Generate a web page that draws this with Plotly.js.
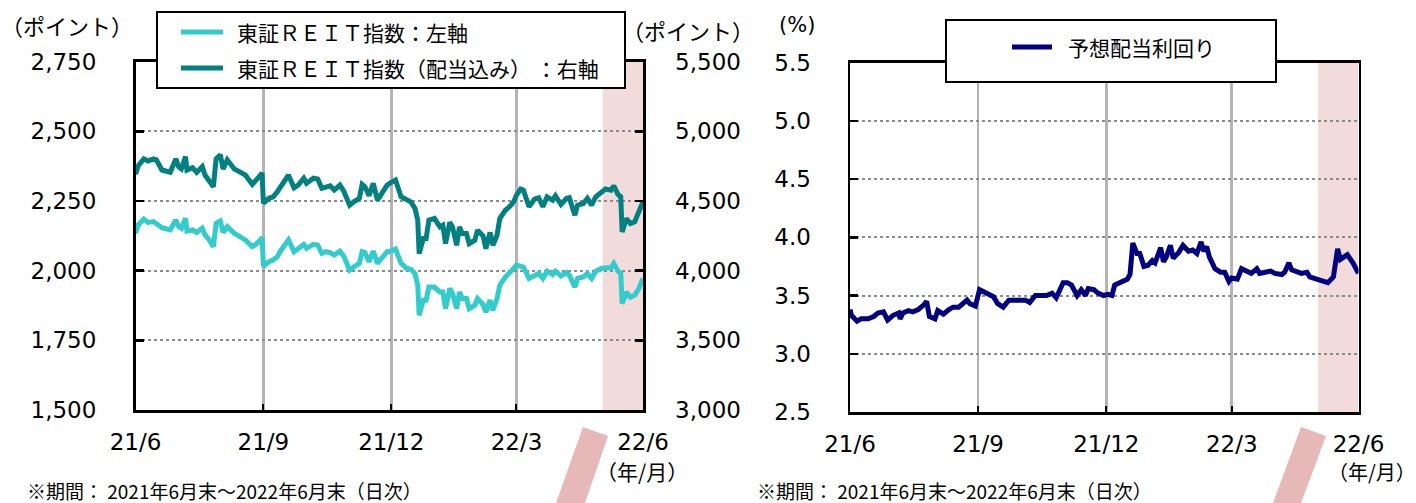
<!DOCTYPE html>
<html>
<head>
<meta charset="utf-8">
<script src="https://cdn.plot.ly/plotly-3.0.1.min.js"></script>
<style>html,body{margin:0;padding:0;background:#fff;}#chart{width:1416px;height:503px;}</style>
</head>
<body>
<div id="chart"></div>
<script>
// ---- data ----
const leftDates = ['2021-06-30','2021-07-02','2021-07-06','2021-07-09','2021-07-13','2021-07-15','2021-07-19','2021-07-25','2021-07-29','2021-07-31',
'2021-08-02','2021-08-05','2021-08-06','2021-08-10','2021-08-13','2021-08-17','2021-08-19','2021-08-22','2021-08-25','2021-08-27',
'2021-08-30','2021-09-01','2021-09-04','2021-09-09','2021-09-14','2021-09-17','2021-09-22','2021-09-24','2021-09-28','2021-09-29',
'2021-09-30','2021-10-04','2021-10-07','2021-10-10','2021-10-12','2021-10-16','2021-10-18','2021-10-22','2021-10-25','2021-10-29',
'2021-10-31','2021-11-05','2021-11-08','2021-11-11','2021-11-14','2021-11-17','2021-11-20','2021-11-24','2021-11-27','2021-12-01',
'2021-12-04','2021-12-08','2021-12-10','2021-12-12','2021-12-15','2021-12-18','2021-12-21','2021-12-24','2021-12-28','2021-12-31',
'2022-01-03','2022-01-07','2022-01-11','2022-01-14','2022-01-17','2022-01-19','2022-01-20','2022-01-23','2022-01-25','2022-01-27',
'2022-01-31','2022-02-04','2022-02-06','2022-02-08','2022-02-11','2022-02-13','2022-02-16','2022-02-18','2022-02-20','2022-02-23',
'2022-02-25','2022-03-01','2022-03-03','2022-03-07','2022-03-09','2022-03-12','2022-03-14','2022-03-17','2022-03-19','2022-03-23',
'2022-03-26','2022-03-29','2022-03-31','2022-04-03','2022-04-05','2022-04-09','2022-04-13','2022-04-16','2022-04-19','2022-04-22',
'2022-04-26','2022-04-28','2022-05-02','2022-05-06','2022-05-08','2022-05-12','2022-05-14','2022-05-18','2022-05-21','2022-05-24',
'2022-05-27','2022-05-31','2022-06-03','2022-06-07','2022-06-09','2022-06-12','2022-06-14','2022-06-15','2022-06-18','2022-06-21',
'2022-06-24','2022-06-27','2022-06-30'];

const reitIndex = [2134,2164,2185,2173,2176,2170,2154,2146,2182,2158,
2152,2188,2142,2146,2137,2152,2128,2110,2086,2170,
2178,2137,2158,2134,2116,2110,2086,2092,2110,2120,
2016,2032,2038,2050,2068,2098,2110,2068,2080,2094,
2080,2094,2092,2062,2068,2065,2056,2070,2050,2002,
2013,2026,2068,2065,2032,2070,2026,2044,2068,2070,
2077,2026,2008,2005,1990,1948,1840,1894,1894,1941,
1941,1923,1923,1864,1936,1918,1864,1923,1900,1900,
1864,1876,1900,1878,1851,1894,1858,1900,1948,1977,
1990,2008,2020,2013,2013,1972,1984,1990,1972,1998,
1986,1998,1981,1993,1984,1941,1972,1977,1990,1972,
1998,2008,2010,2010,2026,1998,1990,1882,1923,1905,
1912,1936,1972];

const reitTotalReturn = [4692,4753,4802,4787,4802,4795,4722,4706,4802,4746,
4730,4818,4722,4739,4706,4746,4686,4650,4602,4802,
4831,4730,4795,4730,4699,4686,4619,4638,4686,4701,
4485,4519,4530,4566,4595,4663,4686,4595,4614,4663,
4627,4663,4658,4591,4602,4609,4578,4614,4566,4470,
4494,4519,4619,4602,4537,4627,4506,4555,4614,4634,
4650,4530,4506,4494,4447,4362,4122,4230,4230,4362,
4374,4314,4326,4194,4346,4314,4182,4314,4266,4266,
4194,4218,4290,4249,4158,4274,4182,4254,4374,4434,
4458,4494,4542,4586,4578,4458,4513,4523,4458,4530,
4506,4537,4475,4519,4523,4398,4470,4482,4519,4470,
4530,4566,4586,4578,4609,4547,4530,4278,4374,4338,
4350,4422,4494];

const rightDates = ['2021-06-30','2021-07-01','2021-07-05','2021-07-08','2021-07-13','2021-07-17','2021-07-20','2021-07-24','2021-07-27','2021-07-31',
'2021-08-04','2021-08-05','2021-08-07','2021-08-11','2021-08-14','2021-08-18','2021-08-22','2021-08-24','2021-08-26','2021-08-30',
'2021-09-01','2021-09-05','2021-09-09','2021-09-12','2021-09-16','2021-09-18','2021-09-22','2021-09-24','2021-09-28','2021-10-01',
'2021-10-04','2021-10-07','2021-10-11','2021-10-14','2021-10-18','2021-10-22','2021-10-25','2021-10-30','2021-11-03','2021-11-06',
'2021-11-10','2021-11-13','2021-11-18','2021-11-22','2021-11-25','2021-11-30','2021-12-03','2021-12-06','2021-12-10','2021-12-13',
'2021-12-16','2021-12-18','2021-12-22','2021-12-25','2021-12-29','2022-01-01','2022-01-04','2022-01-06','2022-01-11','2022-01-15',
'2022-01-17','2022-01-19','2022-01-22','2022-01-24','2022-01-27','2022-01-30','2022-02-02','2022-02-04','2022-02-08','2022-02-10',
'2022-02-12','2022-02-15','2022-02-17','2022-02-21','2022-02-24','2022-02-28','2022-03-03','2022-03-06','2022-03-09','2022-03-11',
'2022-03-13','2022-03-15','2022-03-19','2022-03-23','2022-03-26','2022-03-29','2022-03-31','2022-04-04','2022-04-07','2022-04-11',
'2022-04-14','2022-04-18','2022-04-20','2022-04-24','2022-04-28','2022-05-01','2022-05-06','2022-05-08','2022-05-11','2022-05-13',
'2022-05-17','2022-05-20','2022-05-24','2022-05-26','2022-05-31','2022-06-04','2022-06-08','2022-06-12','2022-06-15','2022-06-17',
'2022-06-22','2022-06-26','2022-06-30'];

const dividendYield = [3.38,3.33,3.28,3.30,3.30,3.32,3.35,3.36,3.29,3.33,
3.35,3.30,3.35,3.37,3.36,3.38,3.42,3.45,3.32,3.30,
3.37,3.34,3.38,3.40,3.40,3.42,3.46,3.43,3.41,3.55,
3.53,3.52,3.49,3.43,3.40,3.46,3.46,3.47,3.46,3.44,
3.50,3.50,3.50,3.52,3.48,3.61,3.61,3.59,3.50,3.55,
3.50,3.56,3.55,3.52,3.50,3.51,3.50,3.59,3.62,3.64,
3.68,3.95,3.86,3.86,3.75,3.76,3.80,3.78,3.91,3.79,
3.83,3.93,3.82,3.87,3.93,3.88,3.89,3.86,3.96,3.88,
3.92,3.83,3.73,3.70,3.70,3.62,3.65,3.64,3.73,3.70,
3.69,3.73,3.69,3.70,3.71,3.69,3.68,3.70,3.78,3.72,
3.70,3.69,3.70,3.66,3.64,3.63,3.61,3.66,3.90,3.81,
3.85,3.78,3.69];

const tickDates = ['2021-06-30','2021-09-30','2021-12-31','2022-03-31','2022-06-30'];
const tickLabels = ['21/6','21/9','21/12','22/3','22/6'];
const seriesNames = ['東証ＲＥＩＴ指数：左軸','東証ＲＥＩＴ指数（配当込み） ：右軸','予想配当利回り'];
const highlightStart = '2022-06-01';
const highlightEnd = '2022-06-30';

// ---- layout helpers ----
const W = 1416, H = 503;
const px = x => x / W;
const py = y => 1 - y / H;
const NUM = 'DejaVu Sans';
const JP = 'Noto Sans CJK JP';
const C1 = '#33cccc', C2 = '#008080', C3 = '#000080';

const traces = [
  {x: leftDates, y: reitIndex, name: seriesNames[0], type: 'scatter', mode: 'lines',
   line: {color: C1, width: 5}, xaxis: 'x', yaxis: 'y'},
  {x: leftDates, y: reitTotalReturn, name: seriesNames[1], type: 'scatter', mode: 'lines',
   line: {color: C2, width: 5}, xaxis: 'x', yaxis: 'y2'},
  {x: rightDates, y: dividendYield, name: seriesNames[2], type: 'scatter', mode: 'lines',
   line: {color: C3, width: 5}, xaxis: 'x2', yaxis: 'y3'}
];

const xCommon = {
  type: 'date', range: [tickDates[0], tickDates[4]], tickmode: 'array',
  tickvals: tickDates, ticktext: tickLabels,
  showline: true, linecolor: '#000', linewidth: 2.5, mirror: true,
  ticks: 'inside', ticklen: 6, tickwidth: 2, tickcolor: '#000',
  showgrid: true, gridcolor: '#b4b4b4', gridwidth: 2.5, zeroline: false,
  tickfont: {family: NUM, size: 23, color: '#000'}, ticklabelstandoff: 10,
  fixedrange: true
};
const yCommon = {
  showline: true, linecolor: '#000', linewidth: 2.5,
  ticks: 'inside', ticklen: 8, tickwidth: 2.5, tickcolor: '#000',
  zeroline: false, tickfont: {family: NUM, size: 23, color: '#000'},
  fixedrange: true
};

const shapes = [
  {type: 'rect', xref: 'x', yref: 'y domain', x0: highlightStart, x1: highlightEnd, y0: 0, y1: 1,
   fillcolor: '#f2dcdb', line: {width: 0}, layer: 'below'},
  {type: 'rect', xref: 'x2', yref: 'y3 domain', x0: highlightStart, x1: highlightEnd, y0: 0, y1: 1,
   fillcolor: '#f2dcdb', line: {width: 0}, layer: 'below'},
  // legend boxes
  {type: 'rect', xref: 'paper', yref: 'paper', x0: px(157), x1: px(625), y0: py(88), y1: py(12),
   fillcolor: '#fff', line: {color: '#000', width: 2}, layer: 'above'},
  {type: 'line', xref: 'paper', yref: 'paper', x0: px(181), x1: px(223), y0: py(32), y1: py(32),
   line: {color: C1, width: 5}, layer: 'above'},
  {type: 'line', xref: 'paper', yref: 'paper', x0: px(181), x1: px(223), y0: py(68), y1: py(68),
   line: {color: C2, width: 5}, layer: 'above'},
  {type: 'rect', xref: 'paper', yref: 'paper', x0: px(946), x1: px(1276), y0: py(82), y1: py(20),
   fillcolor: '#fff', line: {color: '#000', width: 2}, layer: 'above'},
  {type: 'line', xref: 'paper', yref: 'paper', x0: px(1012), x1: px(1052), y0: py(47), y1: py(47),
   line: {color: C3, width: 5}, layer: 'above'},
  // decorative slashes
  {type: 'path', xref: 'paper', yref: 'paper', layer: 'above', fillcolor: '#e6b8b7', line: {width: 0},
   path: `M ${px(583)} ${py(427)} L ${px(608)} ${py(436)} L ${px(585)} ${py(503)} L ${px(556)} ${py(503)} Z`},
  {type: 'path', xref: 'paper', yref: 'paper', layer: 'above', fillcolor: '#e6b8b7', line: {width: 0},
   path: `M ${px(1301)} ${py(427)} L ${px(1326)} ${py(436)} L ${px(1301)} ${py(503)} L ${px(1273)} ${py(503)} Z`}
];

const ann = (x, y, text, opts = {}) => Object.assign({
  xref: 'paper', yref: 'paper', x: px(x), y: py(y), text: text, showarrow: false,
  xanchor: 'left', yanchor: 'middle', font: {family: JP, size: 21, color: '#000'}
}, opts);

const annotations = [
  ann(67, 25, '（ポイント）', {xanchor: 'center', font: {family: JP, size: 22, color: '#000'}}),
  ann(688, 30, '（ポイント）', {xanchor: 'center', font: {family: JP, size: 22, color: '#000'}}),
  ann(797, 25, '(%)', {xanchor: 'center', font: {family: NUM, size: 21, color: '#000'}}),
  ann(235, 32, seriesNames[0]),
  ann(235, 68, seriesNames[1]),
  ann(1066, 47, seriesNames[2]),
  ann(642, 471, '（年/月）', {xanchor: 'center'}),
  ann(1372, 471, '（年/月）', {xanchor: 'center', font: {family: JP, size: 20, color: '#000'}}),
  ann(25, 490, '※期間： 2021年6月末～2022年6月末（日次）', {font: {family: JP, size: 19, color: '#000'}}),
  ann(755, 490, '※期間： 2021年6月末～2022年6月末（日次）', {font: {family: JP, size: 19, color: '#000'}})
];

const layout = {
  width: W, height: H, margin: {l: 0, r: 0, t: 0, b: 0},
  paper_bgcolor: '#fff', plot_bgcolor: '#fff', showlegend: false,
  xaxis: Object.assign({}, xCommon, {domain: [px(135.5), px(643)], anchor: 'y'}),
  yaxis: Object.assign({}, yCommon, {domain: [py(410), py(61.6)], anchor: 'x', range: [1500, 2750],
    tick0: 1500, dtick: 250, tickformat: ',d', showgrid: true, gridcolor: '#8c8c8c', griddash: 'dot',
    gridwidth: 2, ticklabelstandoff: 32}),
  yaxis2: Object.assign({}, yCommon, {overlaying: 'y', side: 'right', anchor: 'x', range: [3000, 5500],
    tick0: 3000, dtick: 500, tickformat: ',d', showgrid: false, ticklabelstandoff: 25}),
  xaxis2: Object.assign({}, xCommon, {domain: [px(850), px(1358.5)], anchor: 'y3'}),
  yaxis3: Object.assign({}, yCommon, {domain: [py(412), py(62.5)], anchor: 'x2', range: [2.5, 5.5],
    tick0: 2.5, dtick: 0.5, tickformat: '.1f', mirror: true, showgrid: true, gridcolor: '#8c8c8c',
    griddash: 'dot', gridwidth: 2, ticklabelstandoff: 32}),
  shapes: shapes,
  annotations: annotations
};

Plotly.newPlot('chart', traces, layout, {staticPlot: true, displayModeBar: false});
</script>
</body>
</html>
